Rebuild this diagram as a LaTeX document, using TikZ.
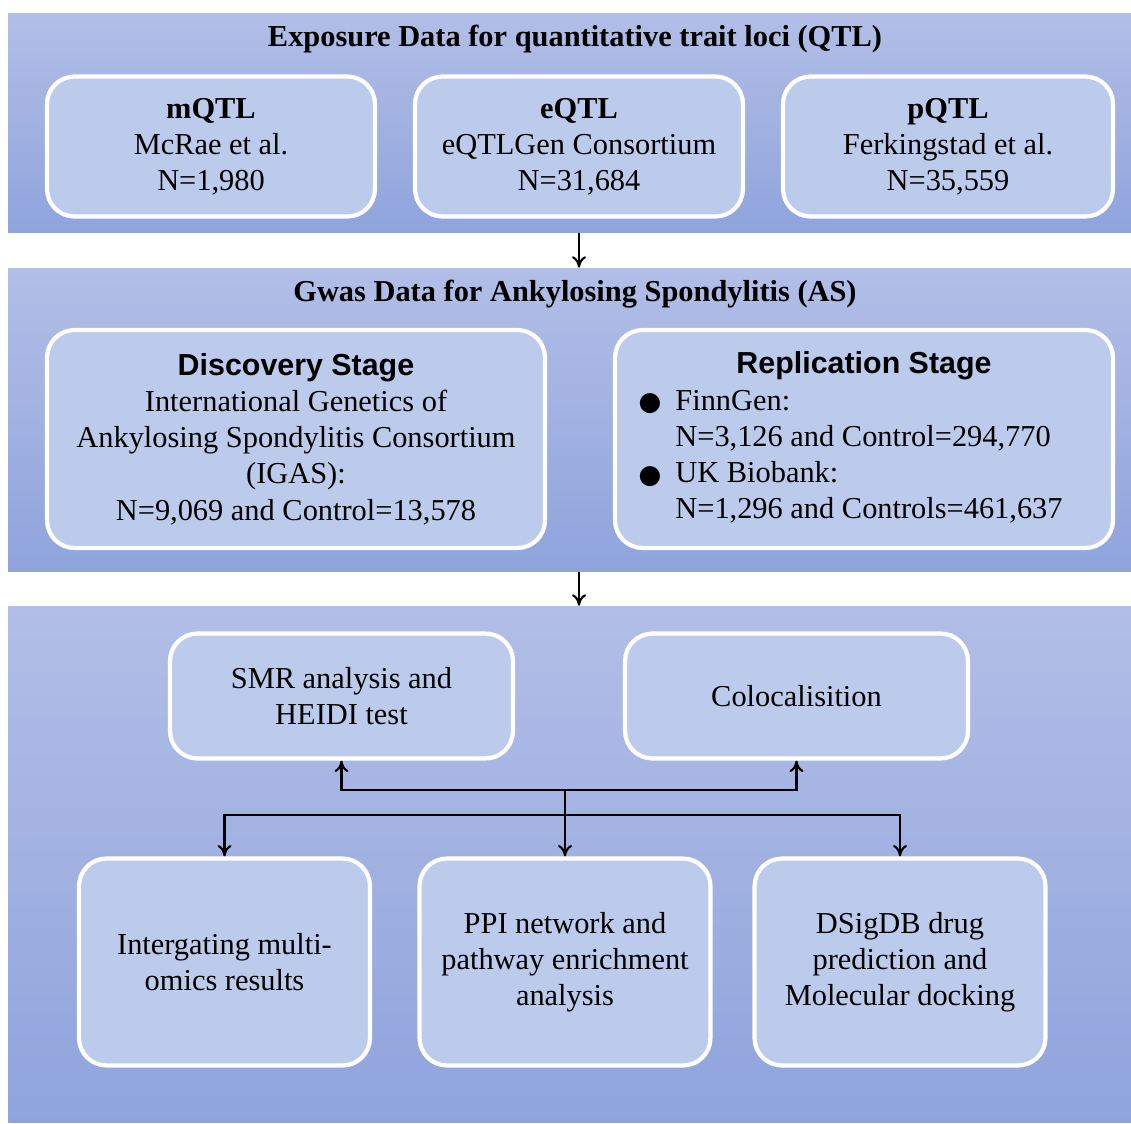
\documentclass[tikz,border=0pt]{standalone}
\usepackage{fontspec}
\setmainfont{Liberation Serif}
\setsansfont{Liberation Sans}
\usetikzlibrary{arrows.meta}

\definecolor{paneltop}{RGB}{178,190,230}
\definecolor{panelbot}{RGB}{143,164,221}
\definecolor{boxfill}{RGB}{188,203,235}

\newcommand{\figfont}{\fontsize{17.3}{20.6}\selectfont}
\newcommand{\bigdot}{\makebox[0.7cm][l]{\hspace{-0.06cm}\raisebox{-0.22em}{\scalebox{1.7}{$\bullet$}}}}

\tikzset{
	panel/.style={rectangle, inner sep=0pt, top color=paneltop, bottom color=panelbot},
	stepbox/.style={rectangle, rounded corners=0.55cm, draw=white, line width=2.4pt,
		fill=boxfill, align=center, inner sep=2pt},
	title/.style={font=\figfont\bfseries},
	link/.style={line width=1.2pt, -{To[length=6.5pt,width=8pt]}}
}

\begin{document}
\begin{tikzpicture}[x=0.02cm, y=-0.02cm, font=\figfont]
					\useasboundingbox (0,0) rectangle (1131,1123);

					% panels
					\node[panel, minimum width=22.46cm, minimum height=4.4cm] (exp) at (569.5,123) {};
					\node[panel, minimum width=22.46cm, minimum height=6.08cm] (gwas) at (569.5,420) {};
					\node[panel, minimum width=22.46cm, minimum height=10.34cm] (ana) at (569.5,864.5) {};

					\node[title] (exptitle) at (575,39) {Exposure Data for quantitative trait loci (QTL)};
					\node[title] (gwastitle) at (575,294) {Gwas Data for Ankylosing Spondylitis (AS)};

					% exposure data
					\node[stepbox, minimum width=6.56cm, minimum height=2.8cm] (mqtl) at (211,146.5)
						{\textbf{mQTL}\\McRae et al.\\N=1,980};
					\node[stepbox, minimum width=6.56cm, minimum height=2.8cm] (eqtl) at (579,146.5)
						{\textbf{eQTL}\\eQTLGen Consortium\\N=31,684};
					\node[stepbox, minimum width=6.6cm, minimum height=2.8cm] (pqtl) at (948,146.5)
						{\textbf{pQTL}\\Ferkingstad et al.\\N=35,559};

					% gwas data
					\node[stepbox, minimum width=9.96cm, minimum height=4.36cm] (disc) at (296,439)
						{{\sffamily\bfseries Discovery Stage}\\International Genetics of\\
						Ankylosing Spondylitis Consortium\\(IGAS):\\N=9,069 and Control=13,578};
					\node[stepbox, minimum width=9.96cm, minimum height=4.36cm] (repl) at (864,439)
						{\begin{tabular}{@{}l@{}l@{\hspace{0.5cm}}}
							\multicolumn{2}{@{}c@{}}{\sffamily\bfseries Replication Stage}\\
							\bigdot & FinnGen:\\
							& N=3,126 and Control=294,770\\
							\bigdot & UK Biobank:\\
							& N=1,296 and Controls=461,637
						\end{tabular}};

					% analysis
					\node[stepbox, minimum width=6.86cm, minimum height=2.5cm] (smr) at (341.5,696)
						{SMR analysis and\\HEIDI test};
					\node[stepbox, minimum width=6.86cm, minimum height=2.5cm] (coloc) at (796.5,696)
						{Colocalisition};

					\node[stepbox, minimum width=5.82cm, minimum height=4.14cm] (omics) at (224.5,962)
						{Intergating multi-\\omics results};
					\node[stepbox, minimum width=5.82cm, minimum height=4.14cm] (ppi) at (565,962)
						{PPI network and\\pathway enrichment\\analysis};
					\node[stepbox, minimum width=5.82cm, minimum height=4.14cm] (drug) at (900,962)
						{DSigDB drug\\prediction and\\Molecular docking};

					\coordinate (hub) at (565,790);
					\coordinate (split) at (565,815);

					\draw[link] (eqtl.south |- exp.south) -- (eqtl.south |- gwas.north);
					\draw[link] (eqtl.south |- gwas.south) -- (eqtl.south |- ana.north);

					\draw[link] (hub) -| (smr.south);
					\draw[link] (hub) -| (coloc.south);
					\draw[link] (hub) -- (ppi.north);
					\draw[link] (split) -| (omics.north);
					\draw[link] (split) -| (drug.north);
				\end{tikzpicture}
\end{document}
